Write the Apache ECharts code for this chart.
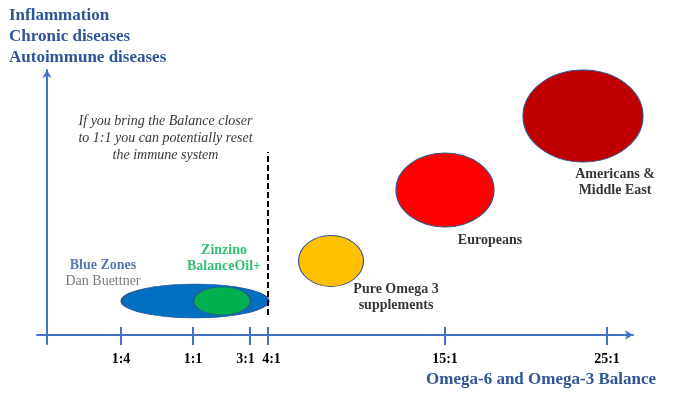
<!DOCTYPE html>
<html>
<head>
<meta charset="utf-8">
<script src="https://cdn.jsdelivr.net/npm/echarts@6/dist/echarts.min.js"></script>
<style>
  html, body { margin: 0; padding: 0; background: #fff; }
  #chart { width: 683px; height: 397px; }
</style>
</head>
<body>
<div id="chart"></div>
<script>
// x axis: position along the balance axis (0 = vertical axis), y axis: inflammation level
const tickLabels = ['1:4', '1:1', '3:1', '4:1', '15:1', '25:1'];
const tickPos = [7.4, 14.6, 20.3, 22.1, 39.8, 56.0];

const groups = ['Blue Zones', 'Zinzino', 'Pure Omega 3', 'Europeans', 'Americans'];
const groupX = [14.8, 17.5, 28.4, 39.8, 53.6];
const groupY = [3.4, 3.4, 7.4, 14.5, 21.9];
const groupColors = ['#0070C0', '#00B050', '#FFC000', '#FF0000', '#C00000'];
// bubble extent in pixels [width, height]
const bubbleSpan = [[147, 34], [57, 28], [65, 51], [98, 74], [120, 92]];

const labelTexts = [
    '{blue|Blue Zones}\n{gray|Dan Buettner}',
    '{green|Zinzino}\n{green|BalanceOil+}',
    '{dark|Pure Omega 3}\n{dark|supplements}',
    '{dark|Europeans}',
    '{dark|Americans &}\n{dark|Middle East}',
    '{note|If you bring the Balance closer}\n{note|to 1:1 you can potentially reset}\n{note|the immune system}'
];
const labelX = [5.6, 17.7, 34.9, 44.3, 56.8, 11.85];
const labelY = [6.2, 7.7, 3.8, 9.5, 15.3, 19.7];

const resetLine = [22.1, 2.0, 18.3]; // x, from y, to y

const serif = "'Liberation Serif', 'Times New Roman', serif";
const axisBlue = '#4472C4';
const textBlue = '#2F5597';

const chart = echarts.init(document.getElementById('chart'));

const bubbleSeries = groups.map((name, i) => ({
    name: name,
    type: 'scatter',
    symbol: 'circle',
    symbolSize: bubbleSpan[i],
    data: [[groupX[i], groupY[i]]],
    itemStyle: {
        color: groupColors[i],
        borderColor: '#2F528F',
        borderWidth: 1,
        opacity: 1
    },
    z: 3 + i,
    silent: true
}));

const option = {
    animation: false,
    title: [
        {
            text: 'Inflammation\nChronic diseases\nAutoimmune diseases',
            left: 9,
            top: 5,
            padding: 0,
            textStyle: {
                fontFamily: serif,
                fontWeight: 'bold',
                fontSize: 17,
                lineHeight: 21,
                color: textBlue
            }
        },
        {
            text: 'Omega-6 and Omega-3 Balance',
            right: 27,
            top: 371,
            padding: 0,
            textStyle: {
                fontFamily: serif,
                fontWeight: 'bold',
                fontSize: 17,
                color: textBlue
            }
        }
    ],
    grid: [
        { left: 37, right: 50, top: 70, bottom: 53 },
        // same width, bottom edge on the horizontal axis: carries the lower tick halves
        { left: 37, right: 50, top: 70, bottom: 62 }
    ],
    xAxis: [
        {
            type: 'value',
            gridIndex: 0,
            min: -1,
            max: 58.6,
            splitLine: { show: false },
            axisLine: {
                onZero: true,
                symbol: ['none', 'arrow'],
                symbolSize: [7, 8],
                lineStyle: { color: axisBlue, width: 2 }
            },
            axisTick: {
                show: true,
                inside: true,
                length: 8,
                customValues: tickPos,
                lineStyle: { color: axisBlue, width: 2 }
            },
            axisLabel: {
                customValues: tickPos,
                margin: 8,
                fontFamily: serif,
                fontWeight: 'bold',
                fontSize: 14,
                color: '#000',
                formatter: (value) => {
                    const idx = tickPos.findIndex(p => Math.abs(p - value) < 1e-6);
                    if (idx < 0) return '';
                    // 3:1 and 4:1 sit close together, nudge them apart
                    if (tickLabels[idx] === '3:1') return '{l|3:1}';
                    if (tickLabels[idx] === '4:1') return '{r|4:1}';
                    return tickLabels[idx];
                },
                rich: {
                    l: { fontFamily: serif, fontWeight: 'bold', fontSize: 14, color: '#000', padding: [0, 9, 0, 0] },
                    r: { fontFamily: serif, fontWeight: 'bold', fontSize: 14, color: '#000', padding: [0, 0, 0, 7] }
                }
            }
        },
        {
            type: 'value',
            gridIndex: 1,
            position: 'bottom',
            min: -1,
            max: 58.6,
            splitLine: { show: false },
            axisLine: { show: false, onZero: false },
            axisLabel: { show: false },
            axisTick: {
                show: true,
                inside: false,
                length: 10,
                customValues: tickPos,
                lineStyle: { color: axisBlue, width: 2 }
            }
        }
    ],
    yAxis: [
        {
            type: 'value',
            gridIndex: 0,
            min: -0.9,
            max: 26.5,
            splitLine: { show: false },
            axisTick: { show: false },
            axisLabel: { show: false },
            axisLine: {
                onZero: true,
                symbol: ['none', 'arrow'],
                symbolSize: [7, 8],
                lineStyle: { color: axisBlue, width: 2 }
            }
        },
        {
            type: 'value',
            gridIndex: 1,
            show: false
        }
    ],
    series: [
        ...bubbleSeries,
        {
            name: 'labels',
            type: 'scatter',
            symbolSize: 0,
            silent: true,
            z: 10,
            data: labelX.map((x, i) => [x, labelY[i]]),
            label: {
                show: true,
                position: 'inside',
                align: 'center',
                verticalAlign: 'middle',
                formatter: (p) => labelTexts[p.dataIndex],
                rich: {
                    blue: { fontFamily: serif, fontWeight: 'bold', fontSize: 14, lineHeight: 16, color: textBlue },
                    gray: { fontFamily: serif, fontSize: 14, lineHeight: 16, color: '#595959' },
                    green: { fontFamily: serif, fontWeight: 'bold', fontSize: 14, lineHeight: 16, color: '#00B050' },
                    dark: { fontFamily: serif, fontWeight: 'bold', fontSize: 14, lineHeight: 16, color: '#000' },
                    note: { fontFamily: serif, fontStyle: 'italic', fontSize: 14, lineHeight: 17, color: '#000' }
                }
            },
            markLine: {
                silent: true,
                symbol: 'none',
                label: { show: false },
                lineStyle: { color: '#000', width: 2, type: [6, 3] },
                data: [[
                    { coord: [resetLine[0], resetLine[1]] },
                    { coord: [resetLine[0], resetLine[2]] }
                ]]
            }
        }
    ]
};

chart.setOption(option);
</script>
</body>
</html>
